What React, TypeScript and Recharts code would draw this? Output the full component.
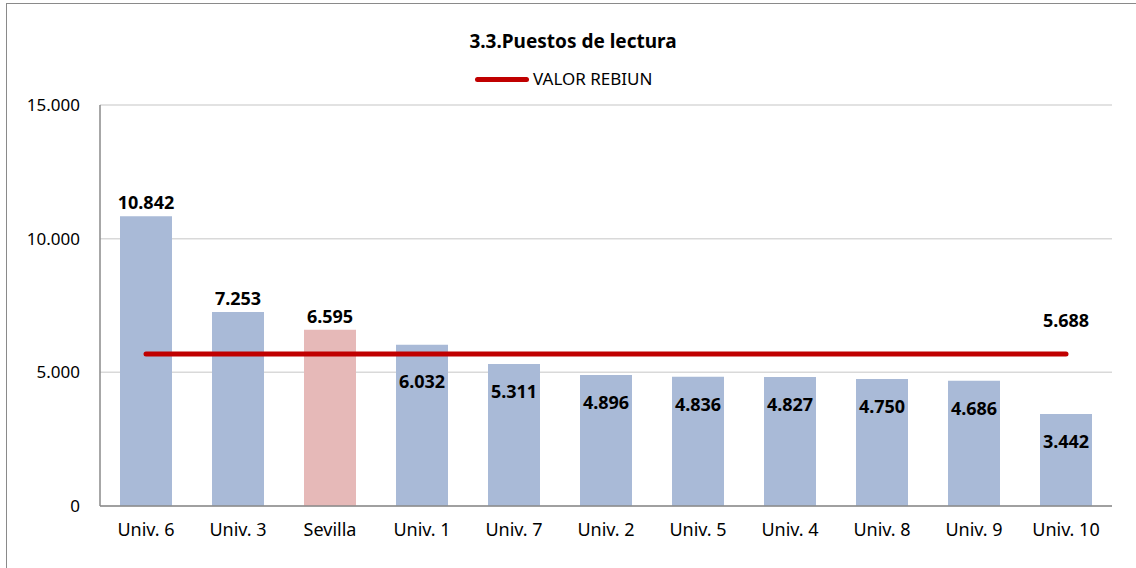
import { ComposedChart, Bar, Line, XAxis, YAxis, CartesianGrid, Cell } from 'recharts'

const categories = ['Univ. 6', 'Univ. 3', 'Sevilla', 'Univ. 1', 'Univ. 7', 'Univ. 2', 'Univ. 5', 'Univ. 4', 'Univ. 8', 'Univ. 9', 'Univ. 10']
const puestos = [10842, 7253, 6595, 6032, 5311, 4896, 4836, 4827, 4750, 4686, 3442]
const rebiun = [5688, 5688, 5688, 5688, 5688, 5688, 5688, 5688, 5688, 5688, 5688]
const yTicks = [0, 5000, 10000, 15000]
const highlight = 'Sevilla'

const data = categories.map((name, i) => ({ name, puestos: puestos[i], rebiun: rebiun[i] }))

const font = '"Noto Sans", "Open Sans", sans-serif'
const fmt = (v: number) => String(v).replace(/\B(?=(\d{3})+(?!\d))/g, '.')

// bar labels: above the bar when there is room over the line, otherwise inside (below the line)
const BarLabel = (props: any) => {
  const { x, y, width, height, value, index } = props
  const base = y + height
  const lineY = base - (rebiun[index] * height) / value
  let ly
  if (lineY - y > 20) ly = y - 14
  else ly = Math.max(y + 27, lineY + 27)
  return (
    <text x={x + width / 2} y={ly} textAnchor="middle" dominantBaseline="central"
      fontFamily={font} fontWeight={700} fontSize={18} fill="#000">
      {fmt(value)}
    </text>
  )
}

const LineLabel = (props: any) => {
  const { x, y, value, index } = props
  if (index !== rebiun.length - 1) return null
  return (
    <text x={x} y={y - 34} textAnchor="middle" dominantBaseline="central"
      fontFamily={font} fontWeight={700} fontSize={18} fill="#000">
      {fmt(value)}
    </text>
  )
}

export default function App() {
  return (
    <div style={{ position: 'relative', width: 1136, height: 568, overflow: 'hidden', background: '#fff' }}>
      <style>{'body{margin:0}'}</style>
      <div style={{
        position: 'absolute', left: 6, top: 3, width: 1150, height: 600,
        border: '1.5px solid #8a8a8a', boxSizing: 'border-box'
      }} />
      <div style={{
        position: 'absolute', left: 0, width: 1146, top: 28, textAlign: 'center',
        fontFamily: font, fontWeight: 700, fontSize: 19, lineHeight: '26px', color: '#000'
      }}>3.3.Puestos de lectura</div>
      <div style={{
        position: 'absolute', left: 475, top: 66, display: 'flex', alignItems: 'center',
        fontFamily: font, fontSize: 17, lineHeight: '26px', color: '#000'
      }}>
        <span style={{ display: 'inline-block', width: 54, height: 5, borderRadius: 3, background: '#C00000', marginRight: 4 }} />
        VALOR REBIUN
      </div>
      <div style={{ position: 'absolute', left: 0, top: 0 }}>
        <ComposedChart width={1136} height={568} data={data}
          margin={{ top: 105, right: 24, bottom: 0, left: 0 }} barSize={52}>
          <CartesianGrid vertical={false} stroke="#d9d9d9" strokeWidth={1.5} />
          <XAxis dataKey="name" height={62} tickSize={0} tickMargin={17}
            axisLine={{ stroke: '#8a8a8a', strokeWidth: 1.5 }}
            tick={{ fontFamily: font, fontSize: 18, fill: '#000' }} />
          <YAxis width={100} domain={[0, 15000]} ticks={yTicks} tickFormatter={fmt}
            tickSize={0} tickMargin={20} interval={0}
            axisLine={{ stroke: '#8a8a8a', strokeWidth: 1.5 }}
            tick={{ fontFamily: font, fontSize: 17, fill: '#000' }} />
          <Bar dataKey="puestos" isAnimationActive={false} label={BarLabel}>
            {data.map((d, i) => (
              <Cell key={i} fill={d.name === highlight ? '#E6B9B8' : '#A9BAD7'} />
            ))}
          </Bar>
          <Line dataKey="rebiun" stroke="#C00000" strokeWidth={5} strokeLinecap="round"
            dot={false} activeDot={false} isAnimationActive={false} label={LineLabel} />
        </ComposedChart>
      </div>
    </div>
  )
}
